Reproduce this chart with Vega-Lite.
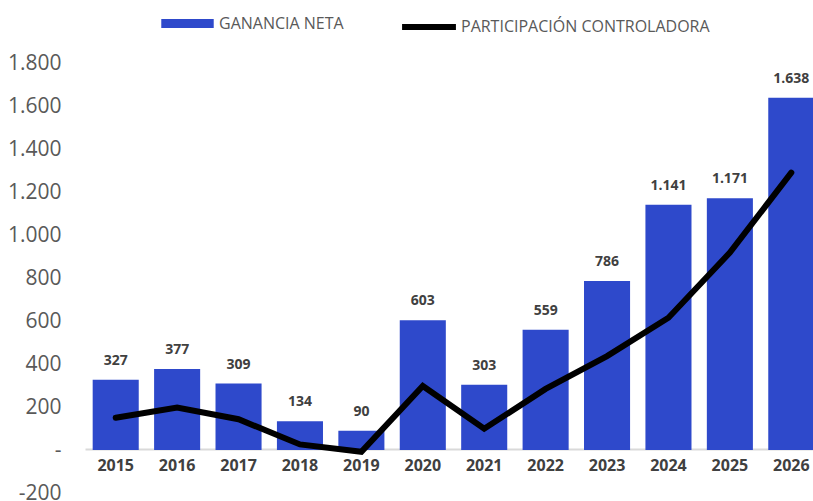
{
  "$schema": "https://vega.github.io/schema/vega-lite/v6.json",
  "autosize": "none",
  "width": 737,
  "height": 430,
  "padding": {"left": 85, "top": 63, "right": -9, "bottom": 8},
  "background": "white",
  "config": {
    "view": {"stroke": null},
    "font": "Open Sans",
    "locale": {"number": {"decimal": ",", "thousands": ".", "grouping": [3], "currency": ["", ""], "minus": "-"}}
  },
  "data": {
    "values": [
      {"anio": "2015", "ganancia": 327, "participacion": 150},
      {"anio": "2016", "ganancia": 377, "participacion": 197},
      {"anio": "2017", "ganancia": 309, "participacion": 143},
      {"anio": "2018", "ganancia": 134, "participacion": 26},
      {"anio": "2019", "ganancia": 90, "participacion": -8},
      {"anio": "2020", "ganancia": 603, "participacion": 298},
      {"anio": "2021", "ganancia": 303, "participacion": 99},
      {"anio": "2022", "ganancia": 559, "participacion": 284},
      {"anio": "2023", "ganancia": 786, "participacion": 437},
      {"anio": "2024", "ganancia": 1141, "participacion": 615},
      {"anio": "2025", "ganancia": 1171, "participacion": 918},
      {"anio": "2026", "ganancia": 1638, "participacion": 1290}
    ]
  },
  "encoding": {
    "x": {
      "field": "anio",
      "type": "nominal",
      "sort": null,
      "scale": {"paddingInner": 0.25, "paddingOuter": 0.125},
      "axis": {
        "title": null,
        "labelAngle": 0,
        "offset": -44,
        "ticks": false,
        "labelPadding": 8,
        "labelFontSize": 16,
        "labelFontWeight": "bold",
        "labelColor": "#404040",
        "domainColor": "#d9d9d9",
        "domainWidth": 2
      }
    }
  },
  "layer": [
    {
      "mark": {"type": "bar"},
      "encoding": {
        "y": {
          "field": "ganancia",
          "type": "quantitative",
          "scale": {"domain": [-200, 1800], "nice": false, "zero": false},
          "axis": {
            "title": null,
            "values": [-200, 0, 200, 400, 600, 800, 1000, 1200, 1400, 1600, 1800],
            "format": ",d",
            "labelExpr": "datum.value === 0 ? '-' : datum.label",
            "domain": false,
            "ticks": false,
            "grid": false,
            "labelFontSize": 21,
            "labelColor": "#595959",
            "labelPadding": 24
          }
        },
        "color": {
          "datum": "GANANCIA NETA",
          "type": "nominal",
          "scale": {"range": ["#2e49cb"]},
          "legend": {
            "title": null,
            "orient": "none",
            "legendX": 76,
            "legendY": -66,
            "symbolType": "M-1,-0.17H1V0.17H-1Z",
            "symbolSize": 2750,
            "symbolStrokeWidth": 0,
            "labelFontSize": 16,
            "labelColor": "#595959",
            "labelOffset": 5,
            "labelLimit": 400
          }
        }
      }
    },
    {
      "mark": {"type": "text", "baseline": "alphabetic", "dy": -15, "fontSize": 14, "fontWeight": "bold", "color": "#404040"},
      "encoding": {
        "y": {"field": "ganancia", "type": "quantitative"},
        "text": {"field": "ganancia", "type": "quantitative", "format": ",d"}
      }
    },
    {
      "mark": {"type": "line", "strokeWidth": 6, "strokeCap": "round", "strokeJoin": "miter"},
      "encoding": {
        "y": {"field": "participacion", "type": "quantitative"},
        "stroke": {
          "datum": "PARTICIPACIÓN CONTROLADORA",
          "type": "nominal",
          "scale": {"range": ["#000000"]},
          "legend": {
            "title": null,
            "orient": "none",
            "legendX": 314,
            "legendY": -66,
            "symbolType": "stroke",
            "symbolSize": 2900,
            "symbolStrokeWidth": 6,
            "labelFontSize": 16,
            "labelColor": "#595959",
            "labelOffset": 2,
            "labelLimit": 400
          }
        }
      }
    }
  ]
}
